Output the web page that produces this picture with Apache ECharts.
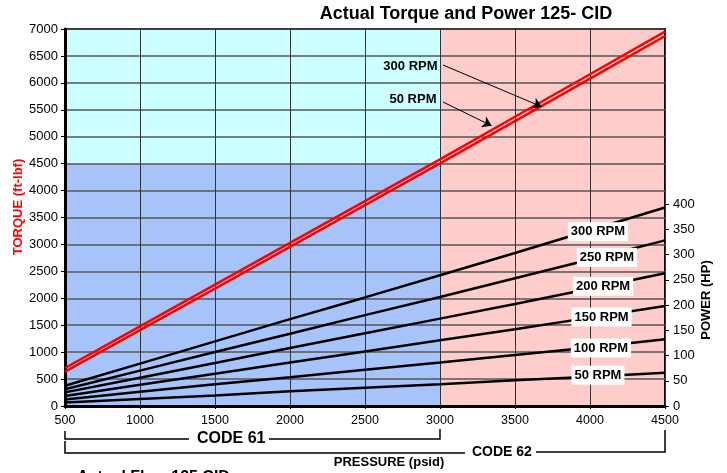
<!DOCTYPE html>
<html>
<head>
<meta charset="utf-8">
<script src="https://cdn.jsdelivr.net/npm/echarts@6/dist/echarts.min.js"></script>
<style>
html, body { margin: 0; padding: 0; background: #fff; }
#main { width: 727px; height: 473px; }
</style>
</head>
<body>
<div id="main"></div>
<script>
var myChart = echarts.init(document.getElementById('main'));
var FONT = '"Liberation Sans", Arial, sans-serif';

// pressure (psid)
var pressure = [500, 1000, 1500, 2000, 2500, 3000, 3500, 4000, 4500];
// torque (ft-lbf)
var torque300 = [705, 1480, 2255, 3030, 3805, 4580, 5370, 6160, 6950];
var torque50 = [640, 1410, 2180, 2955, 3730, 4505, 5290, 6080, 6870];
// power (HP)
var power300 = [40, 84, 128, 172, 215, 259, 303, 348, 393];
var power250 = [33, 70, 107, 143, 180, 216, 253, 290, 328];
var power200 = [27, 56, 85, 115, 144, 173, 202, 232, 263];
var power150 = [20, 42, 64, 86, 108, 130, 152, 175, 198];
var power100 = [13, 28, 43, 57, 72, 86, 101, 116, 132];
var power50 = [7, 14, 21, 29, 36, 43, 51, 58, 66];
var rpmNames = ['300 RPM', '250 RPM', '200 RPM', '150 RPM', '100 RPM', '50 RPM'];

// where the rpm boxes sit on the power lines [psid, HP]
var powerLabelAt = [[4053, 345], [4113, 294], [4087, 237], [4077, 176], [4073, 115], [4053, 61]];

function pairs(ys) {
    return pressure.map(function (p, i) { return [p, ys[i]]; });
}

var boxLabel = {
    show: true,
    position: 'inside',
    color: '#000',
    fontFamily: FONT,
    fontWeight: 'bold',
    fontSize: 13,
    backgroundColor: '#fff',
    padding: [3, 3, 3, 3]
};

function powerSeries(name, ys, idx) {
    return {
        name: name,
        type: 'line',
        xAxisIndex: 1,
        yAxisIndex: 1,
        z: 3,
        symbol: 'none',
        lineStyle: {color: '#000', width: 2.5},
        data: pairs(ys),
        markPoint: {
            symbol: 'rect',
            symbolSize: 1,
            itemStyle: {color: 'rgba(0,0,0,0)'},
            label: Object.assign({formatter: name}, boxLabel),
            data: [{coord: powerLabelAt[idx]}]
        }
    };
}

// plain numbers, no thousands separator
var plain = function (v) { return String(v); };
var axisText = {color: '#000', fontFamily: FONT, fontSize: 13, formatter: plain};

var option = {
    animation: false,
    title: {
        text: 'Actual Torque and Power 125- CID',
        left: 461,
        top: 0,
        textAlign: 'center',
        textStyle: {color: '#000', fontFamily: FONT, fontWeight: 'bold', fontSize: 18}
    },
    grid: [
        {left: 65, right: 62, top: 29, bottom: 67, show: true, z: 2,
            backgroundColor: 'transparent', borderColor: '#000', borderWidth: 2},
        {left: 65, right: 62, top: 204, bottom: 67}
    ],
    xAxis: [
        {
            type: 'value', gridIndex: 0, min: 500, max: 4500, interval: 500, z: 2,
            axisLine: {show: true, lineStyle: {color: '#000', width: 3}},
            axisTick: {show: true, length: 3, lineStyle: {color: '#000'}},
            axisLabel: Object.assign({margin: 8}, axisText, {fontSize: 12.5}),
            splitLine: {show: true, lineStyle: {color: '#333', width: 1}}
        },
        {
            type: 'value', gridIndex: 1, min: 500, max: 4500, show: false
        }
    ],
    yAxis: [
        {
            type: 'value', gridIndex: 0, min: 0, max: 7000, interval: 500, z: 2,
            axisLine: {show: true, lineStyle: {color: '#000', width: 3}},
            axisTick: {show: true, length: 4, lineStyle: {color: '#000'}},
            axisLabel: Object.assign({margin: 7}, axisText),
            splitLine: {show: true, lineStyle: {color: '#555', width: 1.5}}
        },
        {
            type: 'value', gridIndex: 1, position: 'right', min: 0, max: 400, interval: 50, z: 2,
            axisLine: {show: false},
            axisTick: {show: true, length: 4, lineStyle: {color: '#000'}},
            axisLabel: Object.assign({margin: 8}, axisText),
            splitLine: {show: false}
        }
    ],
    series: [
        {
            name: 'torque 300 RPM',
            type: 'line',
            z: 3,
            symbol: 'none',
            lineStyle: {color: '#ff0000', width: 2.5},
            data: pairs(torque300),
            markArea: {
                silent: true,
                z: 1,
                label: {show: false},
                data: [
                    [{coord: [500, 4500], itemStyle: {color: '#ccffff'}}, {coord: [3000, 7000]}],
                    [{coord: [500, 0], itemStyle: {color: '#a6c4fa'}}, {coord: [3000, 4500]}],
                    [{coord: [3000, 0], itemStyle: {color: '#ffcccc'}}, {coord: [4500, 7000]}]
                ]
            },
            markPoint: {
                symbol: 'rect',
                symbolSize: 1,
                itemStyle: {color: 'rgba(0,0,0,0)'},
                label: {show: true, position: 'left', distance: 0, color: '#000',
                    fontFamily: FONT, fontWeight: 'bold', fontSize: 13},
                data: [
                    {coord: [2987, 6313], label: {formatter: '300 RPM'}},
                    {coord: [2980, 5700], label: {formatter: '50 RPM'}}
                ]
            }
        },
        {
            name: 'torque 50 RPM',
            type: 'line',
            z: 3,
            symbol: 'none',
            lineStyle: {color: '#ff0000', width: 2.5},
            data: pairs(torque50),
            markLine: {
                silent: true,
                symbolSize: 9,
                lineStyle: {color: '#000', width: 1, type: 'solid'},
                label: {show: false},
                data: [
                    [{coord: [3020, 6331], symbol: 'none'}, {coord: [3678, 5557], symbol: 'arrow'}],
                    [{coord: [3020, 5644], symbol: 'none'}, {coord: [3344, 5204], symbol: 'arrow'}]
                ]
            }
        },
        powerSeries(rpmNames[0], power300, 0),
        powerSeries(rpmNames[1], power250, 1),
        powerSeries(rpmNames[2], power200, 2),
        powerSeries(rpmNames[3], power150, 3),
        powerSeries(rpmNames[4], power100, 4),
        powerSeries(rpmNames[5], power50, 5)
    ]
};
myChart.setOption(option);

// brackets under the axis, placed from the axis scale
var x500 = myChart.convertToPixel({xAxisIndex: 0}, 500);
var x3000 = myChart.convertToPixel({xAxisIndex: 0}, 3000);
var x4500 = myChart.convertToPixel({xAxisIndex: 0}, 4500);
var bracketStyle = {stroke: '#000', lineWidth: 1.5, fill: null};
var boldText = function (txt, x, y, size, align, extra) {
    return Object.assign({
        type: 'text', x: x, y: y,
        style: {text: txt, fill: '#000', font: 'bold ' + size + 'px ' + FONT,
            textAlign: align, textVerticalAlign: 'middle'}
    }, extra || {});
};

myChart.setOption({
    graphic: [
        {type: 'polyline', shape: {points: [[x500, 431], [x500, 439], [189, 439]]}, style: bracketStyle},
        {type: 'polyline', shape: {points: [[269, 439], [x3000, 439], [x3000, 429]]}, style: bracketStyle},
        boldText('CODE 61', 197, 439, 16, 'left'),
        {type: 'polyline', shape: {points: [[x500, 441], [x500, 453], [465, 453]]}, style: bracketStyle},
        {type: 'polyline', shape: {points: [[536, 452], [x4500, 452], [x4500, 430]]}, style: bracketStyle},
        boldText('CODE 62', 472, 452, 14, 'left'),
        boldText('PRESSURE (psid)', 389, 462, 13, 'center'),
        boldText('Actual Flow 125 CID', 77, 478, 16, 'left'),
        {
            type: 'text', x: 18, y: 207, rotation: Math.PI / 2,
            style: {text: 'TORQUE (ft-lbf)', fill: '#ff0000', font: 'bold 13px ' + FONT,
                textAlign: 'center', textVerticalAlign: 'middle'}
        },
        {
            type: 'text', x: 706, y: 300, rotation: Math.PI / 2,
            style: {text: 'POWER (HP)', fill: '#000', font: 'bold 13px ' + FONT,
                textAlign: 'center', textVerticalAlign: 'middle'}
        }
    ]
});
</script>
</body>
</html>
